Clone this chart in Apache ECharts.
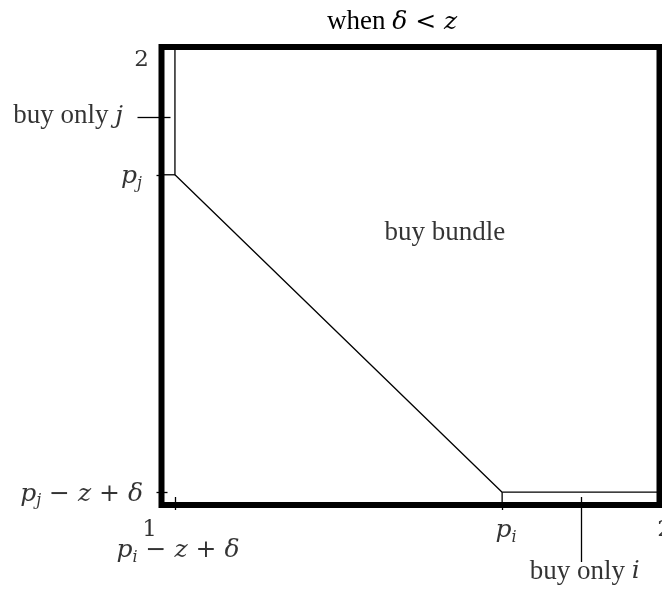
<!DOCTYPE html>
<html>
<head>
<meta charset="utf-8">
<title>when δ &lt; z</title>
<script src="https://cdn.jsdelivr.net/npm/echarts@6/dist/echarts.min.js"></script>
<style>
  html, body { margin: 0; padding: 0; background: #fff; }
  #chart { width: 662px; height: 590px; }
</style>
</head>
<body>
<div id="chart"></div>
<script>
// value space of the unit square [1,2] x [1,2]
const xMin = 1, xMax = 2;
const yMin = 1, yMax = 2;

// thresholds
const pI = 1.684;     // p_i
const pJ = 1.721;     // p_j
const xCut = 1.027;   // p_i - z + δ
const yCut = 1.028;   // p_j - z + δ

// short tick marks on the frame
const xTickValues = [xCut, pI];
const yTickValues = [yCut, pJ];

// leader lines for the two thin regions (drawn as long ticks)
const iPointerX = 1.842;
const jPointerY = 1.847;

// region boundaries
const boundary = [[xCut, yMax], [xCut, pJ], [pI, yCut], [xMax, yCut]];
const jStep = [[xMin, pJ], [xCut, pJ]];
const iStep = [[pI, yMin], [pI, yCut]];

// where the region name sits
const bundleAt = [1.569, 1.594];

// texts
const titleText = '{rm|when }{it|δ}{op| < }{it|z}';
const txtTop2 = '{num|2}';
const txtPj = '{it|p}{sub|j}';
const txtPjCut = '{it|p}{sub|j}{op| − }{it|z}{op| + }{it|δ}';
const txtOne = '{num|1}';
const txtPiCut = '{it|p}{sub|i}{op| − }{it|z}{op| + }{it|δ}';
const txtPi = '{it|p}{sub|i}';
const txtRight2 = '{num|2}';
const txtOnlyJ = '{rm|buy only }{it|j}';
const txtOnlyI = '{rm|buy only }{it|i}';
const txtBundle = '{rm|buy bundle}';

const rich = {
  rm: { fontFamily: 'Liberation Serif', fontSize: 27, fontWeight: 'normal', color: '#000', lineHeight: 30 },
  it: { fontFamily: 'DejaVu Serif', fontStyle: 'italic', fontWeight: 'normal', fontSize: 25, color: '#000', lineHeight: 30 },
  op: { fontFamily: 'DejaVu Serif', fontWeight: 'normal', fontSize: 25, color: '#000', lineHeight: 30 },
  num: { fontFamily: 'DejaVu Serif', fontWeight: 'normal', fontSize: 23, color: '#000', lineHeight: 30 },
  sub: { fontFamily: 'DejaVu Serif', fontStyle: 'italic', fontWeight: 'normal', fontSize: 16, color: '#000',
         lineHeight: 16, verticalAlign: 'bottom' }
};

const tickStyle = { color: '#000', width: 1.3 };

function seg(data) {
  return {
    type: 'line',
    data: data,
    symbol: 'none',
    clip: false,
    silent: true,
    lineStyle: { color: '#000', width: 1.3 }
  };
}

function note(at, text, position, distance, offset) {
  return {
    value: at,
    label: {
      show: true, formatter: text, position: position, distance: distance,
      offset: offset || [0, 0], color: '#000', rich: rich
    }
  };
}

// an axis that only draws ticks at the given values
function tickAxis(kind, values, length, inside) {
  return {
    type: 'value',
    min: kind === 'x' ? xMin : yMin,
    max: kind === 'x' ? xMax : yMax,
    position: kind === 'x' ? 'bottom' : 'left',
    axisLine: { show: false },
    splitLine: { show: false },
    axisLabel: { show: false },
    axisTick: { show: true, customValues: values, length: length, inside: inside, lineStyle: tickStyle }
  };
}

const chart = echarts.init(document.getElementById('chart'));

const option = {
  animation: false,
  title: {
    text: titleText,
    left: 322,
    top: 2,
    textStyle: { fontWeight: 'normal', color: '#000', rich: rich }
  },
  grid: {
    left: 161.5, right: 2.5, top: 47, bottom: 85,
    show: true,
    borderWidth: 6,
    borderColor: '#000',
    backgroundColor: 'transparent'
  },
  xAxis: [
    tickAxis('x', xTickValues, 5, false),
    tickAxis('x', [iPointerX], 57, false),
    tickAxis('x', [xCut, iPointerX], 8, true)
  ],
  yAxis: [
    tickAxis('y', yTickValues, 5, false),
    tickAxis('y', [jPointerY], 24, false),
    tickAxis('y', [yCut], 6, true),
    tickAxis('y', [jPointerY], 9, true)
  ],
  series: [
    seg(boundary),
    seg(jStep),
    seg(iStep),
    {
      type: 'scatter',
      symbolSize: 1,
      clip: false,
      silent: true,
      itemStyle: { color: 'rgba(0,0,0,0)' },
      data: [
        note([xMin, yMax], txtTop2, 'left', 12, [0, 13]),
        note([xMin, pJ], txtPj, 'left', 19, [0, 2]),
        note([xMin, yCut], txtPjCut, 'left', 18, [0, 2]),
        note([xMin, yMin], txtOne, 'bottom', 10, [-12, 0]),
        note([xCut, yMin], txtPiCut, 'bottom', 30, [3, 0]),
        note([pI, yMin], txtPi, 'bottom', 10, [4, 0]),
        note([xMax, yMin], txtRight2, 'bottom', 10, [5, 0]),
        note([xMin, jPointerY], txtOnlyJ, 'left', 38, [0, -1]),
        note([iPointerX, yMin], txtOnlyI, 'bottom', 51, [4, 0]),
        note(bundleAt, txtBundle, 'inside', 0, [0, 0])
      ]
    }
  ]
};

chart.setOption(option);
window.addEventListener('resize', function () {
  chart.resize();
});
</script>
</body>
</html>
